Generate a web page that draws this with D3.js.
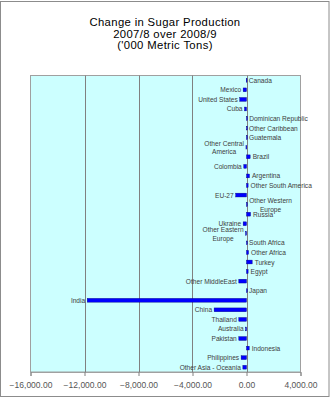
<!DOCTYPE html>
<html><head><meta charset="utf-8">
<script src="https://cdn.jsdelivr.net/npm/d3@7"></script>
<style>body{margin:0;background:#fff}svg{display:block}</style>
</head><body>
<script>
const titleLines = ["Change in Sugar Production", "2007/8 over 2008/9", "('000 Metric Tons)"];
const categories = ["Canada","Mexico","United States","Cuba","Dominican Republic","Other Caribbean","Guatemala","Other Central America","Brazil","Colombia","Argentina","Other South America","EU-27","Other Western Europe","Russia","Ukraine","Other Eastern Europe","South Africa","Other Africa","Turkey","Egypt","Other MiddleEast","Japan","India","China","Thailand","Australia","Pakistan","Indonesia","Philippines","Other Asia - Oceania"];
const values = [-20,-250,-500,-150,10,0,0,-40,270,-200,220,120,-800,15,300,-250,-70,0,150,420,120,-570,0,-11800,-2400,-570,-70,-570,200,-400,-270];
const labelLines = {"Other Central America":["Other Central","America"],"Other Western Europe":["Other Western","Europe"],"Other Eastern Europe":["Other Eastern","Europe"]};
const xTicks = [-16000,-12000,-8000,-4000,0,4000];

const W=331,H=400;
const svg=d3.select("body").append("svg").attr("width",W).attr("height",H);
const font="Arial, 'Liberation Sans', sans-serif";

// chart border
svg.append("rect").attr("x",0.5).attr("y",1.5).attr("width",328.5).attr("height",395).attr("fill","#fff").attr("stroke","#8c8c8c");

const ml=30.5, mr=300.5, mt=75.5, mb=372;
const x=d3.scaleLinear().domain([-16000,4000]).range([ml,mr]);
const y=d3.scaleBand().domain(categories).range([mt,mb]);

svg.append("rect").attr("x",ml).attr("y",mt).attr("width",mr-ml).attr("height",mb-mt).attr("fill","#ccffff").attr("stroke","#a0a0a0");

// gridlines
svg.append("g").selectAll("line").data(xTicks.filter(t=>t>-16000&&t<4000)).join("line")
  .attr("x1",d=>Math.round(x(d))+0.5).attr("x2",d=>Math.round(x(d))+0.5)
  .attr("y1",mt).attr("y2",mb).attr("stroke","#808080").attr("stroke-width",1);

// x axis
const ax=d3.axisBottom(x).tickValues(xTicks).tickSize(4).tickPadding(6).tickFormat(d3.format(",.2f"));
const gx=svg.append("g").attr("transform",`translate(0,${mb})`).call(ax);
gx.select(".domain").attr("stroke","#a0a0a0");
gx.selectAll(".tick line").attr("stroke","#808080");
gx.selectAll("text").attr("font-family",font).attr("font-size","8.5px").attr("fill","#555");

// bars
const bh=3.8;
svg.append("g").selectAll("rect").data(categories).join("rect")
  .attr("x",(d,i)=>Math.min(x(0),x(values[i])))
  .attr("y",d=>y(d)+y.bandwidth()/2-bh/2)
  .attr("width",(d,i)=>Math.max(0.8,Math.abs(x(values[i])-x(0))))
  .attr("height",bh).attr("fill","#0000ff").attr("stroke","#000080").attr("stroke-width",0.4);

// labels
const lg=svg.append("g").attr("font-family",font).attr("font-size","6.6px").attr("fill","#404040");
categories.forEach((c,i)=>{
  const v=values[i];
  const neg=v<-30;
  const xe=x(v)+(neg?-2:2.5);
  const yc=y(c)+y.bandwidth()/2;
  const lines=labelLines[c];
  if(lines){
    const t=lg.append("text").attr("text-anchor","middle").attr("dominant-baseline","central");
    const tmp=lg.append("text").text(lines[0]);
    const w=tmp.node().getComputedTextLength(); tmp.remove();
    const cx=neg?xe-w/2:xe+w/2;
    lines.forEach((l,k)=>t.append("tspan").attr("x",cx).attr("y",yc+(k-0.5)*8.4).text(l));
  } else {
    lg.append("text").attr("x",xe).attr("y",yc).attr("dominant-baseline","central")
      .attr("text-anchor",neg?"end":"start").text(c);
  }
});

// title
svg.append("g").selectAll("text").data(titleLines).join("text")
  .attr("x",165).attr("y",(d,i)=>22+i*11.7).attr("dominant-baseline","central")
  .attr("text-anchor","middle").attr("font-family",font).attr("font-size","11.3px")
  .attr("letter-spacing","0.35px").attr("fill","#000")
  .text(d=>d);
</script>
</body></html>
